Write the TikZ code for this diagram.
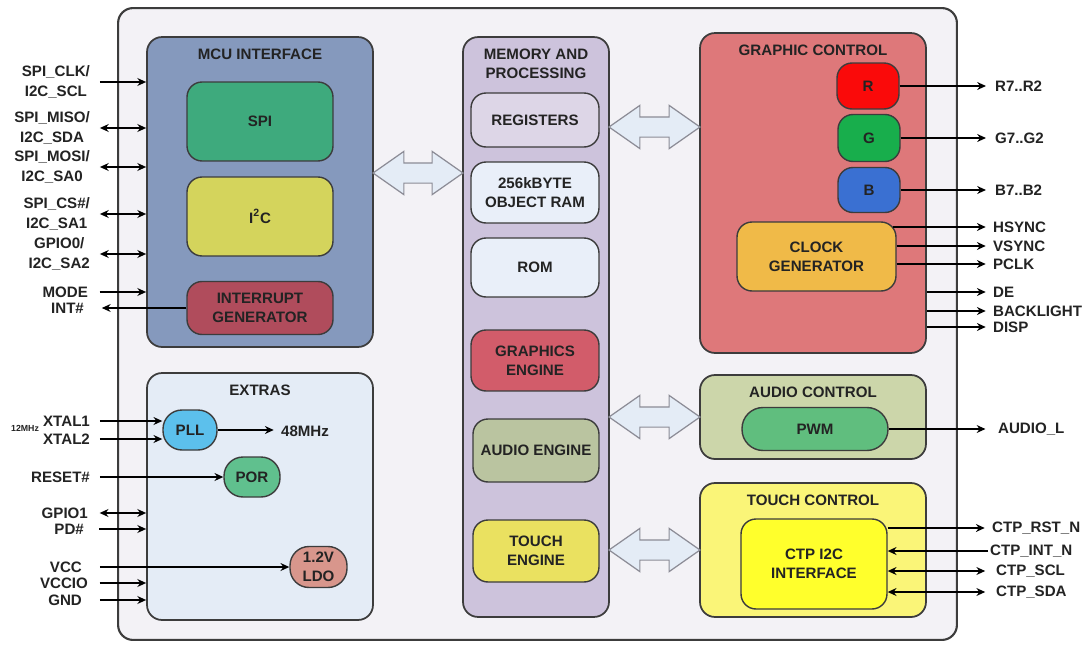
\documentclass[tikz,border=0pt]{standalone}
\usepackage{fontspec}
\setmainfont{Liberation Sans}
\usepackage{xcolor}
\usetikzlibrary{shapes.arrows,arrows.meta,positioning}

\definecolor{chipbg}{RGB}{243,242,246}
\definecolor{edgecol}{RGB}{60,60,60}
\definecolor{textcol}{RGB}{35,35,35}
\definecolor{mcucol}{RGB}{133,153,189}
\definecolor{spicol}{RGB}{62,170,125}
\definecolor{i2ccol}{RGB}{212,212,92}
\definecolor{intcol}{RGB}{176,76,92}
\definecolor{extcol}{RGB}{228,236,246}
\definecolor{pllcol}{RGB}{92,192,236}
\definecolor{porcol}{RGB}{96,192,142}
\definecolor{ldocol}{RGB}{216,150,140}
\definecolor{memcol}{RGB}{205,195,220}
\definecolor{regcol}{RGB}{221,214,231}
\definecolor{ramcol}{RGB}{233,239,249}
\definecolor{gfxecol}{RGB}{210,92,106}
\definecolor{audecol}{RGB}{186,196,160}
\definecolor{touecol}{RGB}{234,225,96}
\definecolor{gfxcol}{RGB}{222,120,122}
\definecolor{rcol}{RGB}{250,10,10}
\definecolor{gcol}{RGB}{24,174,76}
\definecolor{bcol}{RGB}{58,112,210}
\definecolor{clkcol}{RGB}{240,186,72}
\definecolor{audcol}{RGB}{204,214,170}
\definecolor{pwmcol}{RGB}{96,190,126}
\definecolor{tchcol}{RGB}{250,245,120}
\definecolor{ctpcol}{RGB}{255,255,44}
\definecolor{busfill}{RGB}{228,236,246}
\definecolor{busline}{RGB}{140,140,150}

\begin{document}
\begin{tikzpicture}[
    x=0.02cm, y=-0.02cm,
    every node/.style={font=\bfseries\fontsize{8.6}{11}\selectfont, text=textcol},
    group/.style={draw=edgecol, line width=1pt, rounded corners=0.3cm, minimum width=4.52cm},
    blk/.style={draw=edgecol, line width=0.8pt, rounded corners=0.3cm, align=center, inner sep=2pt},
    pill/.style={blk, rounded corners=0.38cm},
    title/.style={inner sep=0pt, align=center},
    lpin/.style={inner sep=1pt, align=center, anchor=east},
    rpin/.style={inner sep=1pt, align=left, anchor=west},
    bus/.style={double arrow, draw=busline, fill=busfill, line width=0.7pt,
        double arrow tip angle=70, double arrow head extend=0.23cm,
        inner xsep=0pt, inner ysep=0.19cm, minimum height=1.8cm},
    sig/.style={line width=0.8pt, -{Stealth[length=5pt,width=4.5pt]}},
    bidi/.style={line width=0.8pt, {Stealth[length=5pt,width=4.5pt]}-{Stealth[length=5pt,width=4.5pt]}}
  ]
  \path[use as bounding box, fill=white] (0,0) rectangle (1089,646);

  % chip outline
  \node[draw=edgecol, fill=chipbg, line width=1.2pt, rounded corners=0.3cm,
        minimum width=16.78cm, minimum height=12.64cm] (chip) at (537.5,324) {};

  % MCU interface
  \node[group, fill=mcucol, minimum height=6.2cm] (mcu) at (260,192) {};
  \node[title, below=0.24cm of mcu.north] (mcut) {MCU INTERFACE};
  \node[blk, fill=spicol, minimum width=2.92cm, minimum height=1.58cm] (spi) at (260,121.5) {SPI};
  \node[blk, fill=i2ccol, minimum width=2.92cm, minimum height=1.58cm] (i2c) at (260,216.5) {I\textsuperscript{2}C};
  \node[blk, fill=intcol, minimum width=2.92cm, minimum height=1.06cm] (intg) at (260,308) {INTERRUPT\\GENERATOR};

  % extras
  \node[group, fill=extcol, minimum height=4.94cm] (ext) at (260,496.5) {};
  \node[title, below=0.24cm of ext.north] (extt) {EXTRAS};
  \node[pill, fill=pllcol, minimum width=1.08cm, minimum height=0.8cm] (pll) at (190,430) {PLL};
  \node[pill, fill=porcol, minimum width=1.12cm, minimum height=0.8cm] (por) at (252,477) {POR};
  \node[pill, fill=ldocol, minimum width=1.14cm, minimum height=0.82cm] (ldo) at (318.5,567) {1.2V\\LDO};

  % memory and processing
  \node[group, fill=memcol, minimum width=2.92cm, minimum height=11.6cm] (mem) at (536,327) {};
  \node[title, below=0.24cm of mem.north] (memt) {MEMORY AND\\PROCESSING};
  \node[blk, fill=regcol, minimum width=2.56cm, minimum height=1.08cm] (reg) at (535,120) {REGISTERS};
  \node[blk, fill=ramcol, minimum width=2.56cm, minimum height=1.22cm] (ram) at (535,192.5) {256kBYTE\\OBJECT RAM};
  \node[blk, fill=ramcol, minimum width=2.56cm, minimum height=1.18cm] (rom) at (535,267.5) {ROM};
  \node[blk, fill=gfxecol, minimum width=2.56cm, minimum height=1.22cm] (gfxe) at (535,360.5) {GRAPHICS\\ENGINE};
  \node[blk, fill=audecol, minimum width=2.52cm, minimum height=1.26cm] (aude) at (536,450.5) {AUDIO ENGINE};
  \node[blk, fill=touecol, minimum width=2.52cm, minimum height=1.24cm] (toue) at (536,551) {TOUCH\\ENGINE};

  % graphic control
  \node[group, fill=gfxcol, minimum height=6.4cm] (gfx) at (813,193) {};
  \node[title, below=0.24cm of gfx.north] (gfxt) {GRAPHIC CONTROL};
  \node[blk, fill=rcol, minimum width=1.24cm, minimum height=0.92cm] (r) at (868,86) {R};
  \node[blk, fill=gcol, minimum width=1.24cm, minimum height=0.94cm] (g) at (869,138) {G};
  \node[blk, fill=bcol, minimum width=1.24cm, minimum height=0.9cm] (b) at (869,190) {B};
  \node[blk, fill=clkcol, minimum width=3.18cm, minimum height=1.38cm] (clk) at (816.5,256.5) {CLOCK\\GENERATOR};

  % audio control
  \node[group, fill=audcol, minimum height=1.68cm] (aud) at (813,417) {};
  \node[title, below=0.24cm of aud.north] (audt) {AUDIO CONTROL};
  \node[pill, fill=pwmcol, minimum width=2.92cm, minimum height=0.86cm, rounded corners=0.42cm] (pwm) at (815,429) {PWM};

  % touch control
  \node[group, fill=tchcol, minimum height=2.68cm] (tch) at (813,550) {};
  \node[title, below=0.24cm of tch.north] (tcht) {TOUCH CONTROL};
  \node[blk, fill=ctpcol, minimum width=2.92cm, minimum height=1.8cm] (ctp) at (814,564) {CTP I2C\\INTERFACE};

  % internal buses
  \node[bus] (bus1) at (418,173) {};
  \node[bus, minimum height=1.82cm] (bus2) at (654.5,127) {};
  \node[bus, minimum height=1.82cm] (bus3) at (654.5,417) {};
  \node[bus, minimum height=1.82cm] (bus4) at (654.5,550) {};

  % MCU pins
  \node[lpin] (lclk) at (92,82) {SPI\_CLK/\\I2C\_SCL};
  \node[lpin] (lmiso) at (92,128) {SPI\_MISO/\\I2C\_SDA};
  \node[lpin] (lmosi) at (92,167) {SPI\_MOSI/\\I2C\_SA0};
  \node[lpin] (lcs) at (92,214) {SPI\_CS\#/\\I2C\_SA1};
  \node[lpin] (lgp0) at (92,254) {GPIO0/\\I2C\_SA2};
  \node[lpin] (lmode) at (90,292) {MODE};
  \node[lpin] (lint) at (86,308) {INT\#};
  \draw[sig, shorten <=4.5pt] (lclk) -- (lclk -| mcu.west);
  \draw[bidi, shorten <=4.5pt] (lmiso) -- (lmiso -| mcu.west);
  \draw[bidi, shorten <=4.5pt] (lmosi) -- (lmosi -| mcu.west);
  \draw[bidi, shorten <=4.5pt] (lcs) -- (lcs -| mcu.west);
  \draw[bidi, shorten <=4.5pt] (lgp0) -- (lgp0 -| mcu.west);
  \draw[sig, shorten <=5.5pt] (lmode) -- (lmode -| mcu.west);
  \draw[sig, shorten >=9pt] (intg) -- (lint);

  % extras pins
  \node[lpin] (lx1) at (92,421) {XTAL1};
  \node[lpin] (lx2) at (92,439) {XTAL2};
  \node[lpin, font=\bfseries\fontsize{5}{6}\selectfont] (l12) at (lx1.west |- 0,428) {12MHz};
  \node[lpin] (lrst) at (92,477) {RESET\#};
  \node[lpin] (lgp1) at (90,513) {GPIO1};
  \node[lpin] (lpd) at (86,529) {PD\#};
  \node[lpin] (lvcc) at (84,567) {VCC};
  \node[lpin] (lvio) at (90,583) {VCCIO};
  \node[lpin] (lgnd) at (84,600) {GND};
  \node[rpin] (l48) at (279,431) {48MHz};
  \draw[sig, shorten <=4.5pt] (lx1) -- (lx1 -| pll.west);
  \draw[sig, shorten <=4.5pt] (lx2) -- (lx2 -| pll.west);
  \draw[sig, shorten <=4.5pt] (lrst) -- (por);
  \draw[bidi, shorten <=5.5pt] (lgp1) -- (lgp1 -| ext.west);
  \draw[sig, shorten <=7.5pt] (lpd) -- (lpd -| ext.west);
  \draw[sig, shorten <=9pt] (lvcc) -- (ldo);
  \draw[sig, shorten <=5.5pt] (lvio) -- (lvio -| ext.west);
  \draw[sig, shorten <=9pt] (lgnd) -- (lgnd -| ext.west);
  \draw[sig, shorten >=3pt] (pll) -- (pll -| l48.west);

  % display pins
  \node[rpin] (lr) at (993,86) {R7..R2};
  \node[rpin] (lg) at (993,138) {G7..G2};
  \node[rpin] (lb) at (993,190) {B7..B2};
  \node[rpin] (lhs) at (991,227) {HSYNC};
  \node[rpin] (lvs) at (991,246) {VSYNC};
  \node[rpin] (lpc) at (991,264) {PCLK};
  \node[rpin] (lde) at (991,292) {DE};
  \node[rpin] (lbl) at (991,311) {BACKLIGHT};
  \node[rpin] (ldsp) at (991,327) {DISP};
  \draw[sig, shorten >=4pt] (r) -- (lr);
  \draw[sig, shorten >=4pt] (g) -- (lg);
  \draw[sig, shorten >=4pt] (b) -- (lb);
  \draw[sig, shorten >=3pt] (lhs -| clk.east) ++(-4,0) -- (lhs);
  \draw[sig, shorten >=3pt] (lvs -| clk.east) -- (lvs);
  \draw[sig, shorten >=3pt] (lpc -| clk.east) -- (lpc);
  \draw[sig, shorten >=3pt] (lde -| gfx.east) -- (lde);
  \draw[sig, shorten >=3pt] (lbl -| gfx.east) -- (lbl);
  \draw[sig, shorten >=3pt] (ldsp -| gfx.east) -- (ldsp);

  % audio and touch pins
  \node[rpin] (laud) at (996,429) {AUDIO\_L};
  \node[rpin] (lrstn) at (990,528) {CTP\_RST\_N};
  \node[rpin] (lintn) at (988,551) {CTP\_INT\_N};
  \node[rpin] (lscl) at (994,571) {CTP\_SCL};
  \node[rpin] (lsda) at (994,592) {CTP\_SDA};
  \draw[sig, shorten >=6pt] (pwm) -- (laud);
  \draw[sig, shorten >=3pt] (lrstn -| ctp.east) -- (lrstn);
  \draw[sig] (lintn) -- (lintn -| ctp.east);
  \draw[bidi, shorten >=5pt] (lscl -| ctp.east) -- (lscl);
  \draw[bidi, shorten >=5pt] (lsda -| ctp.east) -- (lsda);
\end{tikzpicture}
\end{document}
